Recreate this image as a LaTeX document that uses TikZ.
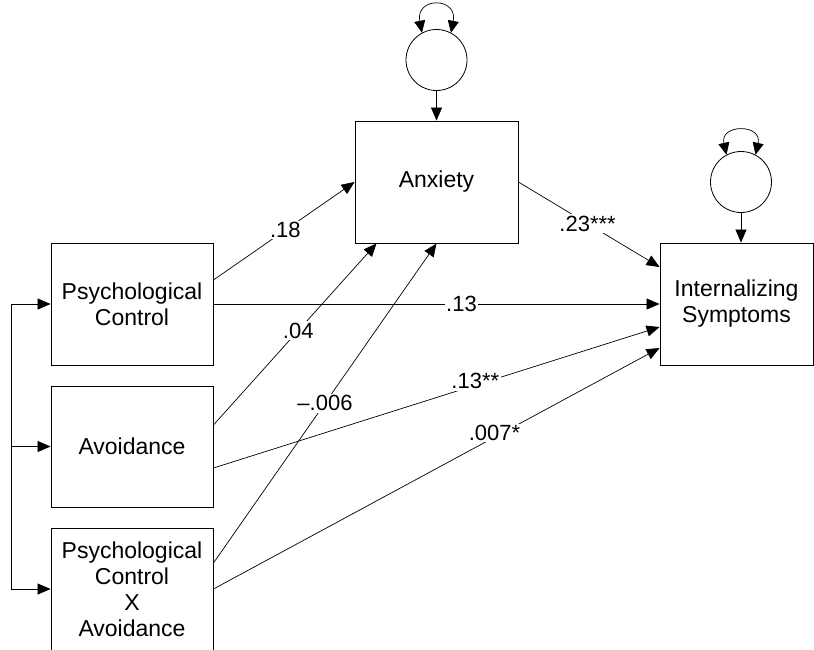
\documentclass[tikz,border=0pt]{standalone}
\usepackage{fontspec}
\setmainfont{Liberation Sans}
\usetikzlibrary{arrows.meta,calc}
\begin{document}
\begin{tikzpicture}[x=1pt,y=-1pt,
  box/.style={draw, line width=0.9pt, inner sep=0pt, align=center, font=\fontsize{23}{26}\selectfont},
  lat/.style={draw, circle, line width=0.8pt, minimum size=61pt, inner sep=0pt},
  arr/.style={-{Triangle[length=13pt,width=11pt]}, line width=0.7pt},
  dbl/.style={{Triangle[length=12pt,width=11pt]}-{Triangle[length=12pt,width=11pt]}, line width=0.7pt},
  plain/.style={line width=0.7pt},
  lab/.style={fill=white, inner sep=1.5pt, font=\fontsize{22}{26}\selectfont}]
\useasboundingbox (0,0) rectangle (814,649);
\fill[white] (0,0) rectangle (814,649);
% boxes
\node[box, minimum width=162pt, minimum height=122pt] (pc) at (132,304) {Psychological\\Control};
\node[box, minimum width=162pt, minimum height=121pt] (avoid) at (132,446.5) {Avoidance};
\node[box, minimum width=162pt, minimum height=122pt] (pcxa) at (132,589) {Psychological\\Control\\X\\Avoidance};
\node[box, minimum width=163pt, minimum height=122pt] (anx) at (436.5,182) {Anxiety};
\node[box, minimum width=153pt, minimum height=122pt] (intern) at (736.5,304) {Internalizing\\Symptoms};
% residual circles
\node[lat] (c1) at (436.5,60) {};
\node[lat] (c2) at (741,182) {};
\draw[arr] (c1.south) -- (anx.north);
\draw[arr] (c2.south) -- (c2.south |- intern.north);
\draw[dbl] (c1.118) .. controls +(-7,-36) and +(7,-36) .. (c1.62);
\draw[dbl] (c2.118) .. controls +(-7,-31) and +(7,-31) .. (c2.62);
% left correlation bracket
\coordinate (lt) at (11,304);
\coordinate (lb) at (11,589);
\draw[plain] (lt) -- (lb);
\draw[arr] (lt) -- (pc.west);
\draw[arr] (lt |- avoid.west) -- (avoid.west);
\draw[arr] (lb) -- (pcxa.west);
% paths
\draw[arr] ([yshift=24pt]pc.east) -- node[lab, pos=0.51]{.18} (anx.west);
\draw[arr] (pc.east) -- node[lab, pos=0.556]{.13} (pc.east -| intern.west);
\draw[arr] ([yshift=21.5pt]avoid.east) -- node[lab, pos=0.52]{.04} ([xshift=-60pt]anx.south);
\draw[arr] ([yshift=26pt]pcxa.east) -- node[lab, pos=0.5]{–.006} (anx.south);
\draw[arr] (anx.east) -- node[lab, pos=0.49]{.23***} ([yshift=37pt]intern.west);
\draw[arr] ([yshift=-21.5pt]avoid.east) -- node[lab, pos=0.587, yshift=4pt]{.13**} ([yshift=-23pt]intern.west);
\draw[arr] (pcxa.east) -- node[lab, pos=0.63, yshift=4pt]{.007*} ([yshift=-44pt]intern.west);
\end{tikzpicture}
\end{document}
